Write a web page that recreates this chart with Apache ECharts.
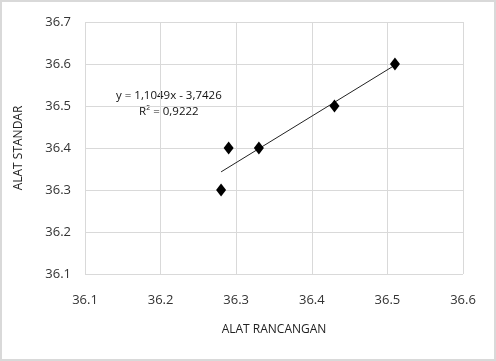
<!DOCTYPE html>
<html><head><meta charset="utf-8">
<script src="https://cdn.jsdelivr.net/npm/echarts@6/dist/echarts.min.js"></script>
<style>html,body{margin:0;padding:0;background:#fff}#c{width:496px;height:361px;box-sizing:border-box;border:2px solid #d9d9d9}</style>
</head><body><div id="c"></div>
<script>
const alatRancangan = [36.28, 36.29, 36.33, 36.43, 36.51];
const alatStandar = [36.3, 36.4, 36.4, 36.5, 36.6];
const slope = 1.1049, intercept = -3.7426;
const equationText = ['y = 1,1049x - 3,7426', 'R² = 0,9222'];

const pts = alatRancangan.map((x, i) => [x, alatStandar[i]]);
const xMin = Math.min(...alatRancangan), xMax = Math.max(...alatRancangan);
const trend = [[xMin, slope * xMin + intercept], [xMax, slope * xMax + intercept]];

const chart = echarts.init(document.getElementById('c'));
const font = 'Open Sans';
chart.setOption({
  animation: false,
  grid: {left: 83, right: 31, top: 20, bottom: 85, containLabel: false},
  xAxis: {
    type: 'value', min: 36.1, max: 36.6, interval: 0.1,
    name: 'ALAT RANCANGAN', nameLocation: 'middle', nameGap: 50,
    nameTextStyle: {fontFamily: font, fontSize: 12, color: '#222'},
    axisLine: {show: false}, axisTick: {show: false},
    axisLabel: {fontFamily: font, fontSize: 13, color: '#333', margin: 20, formatter: v => v.toFixed(1)},
    splitLine: {show: true, lineStyle: {color: '#d9d9d9', width: 1}}
  },
  yAxis: {
    type: 'value', min: 36.1, max: 36.7, interval: 0.1,
    name: 'ALAT STANDAR', nameLocation: 'middle', nameGap: 60,
    nameTextStyle: {fontFamily: font, fontSize: 12, color: '#222'},
    axisLine: {show: false}, axisTick: {show: false},
    axisLabel: {fontFamily: font, fontSize: 13, color: '#333', margin: 14, formatter: v => v.toFixed(1)},
    splitLine: {show: true, lineStyle: {color: '#d9d9d9', width: 1}}
  },
  graphic: [{
    type: 'text', left: 114, top: 86,
    style: {text: equationText.join('\n'), fontFamily: font, fontSize: 11.5, fill: '#111', align: 'center', lineHeight: 16, textAlign: 'center', x: 55}
  }],
  series: [
    {type: 'line', data: trend, symbol: 'none', lineStyle: {color: '#222', width: 1}, z: 2},
    {type: 'scatter', data: pts, symbol: 'diamond', symbolSize: [10, 13], itemStyle: {color: '#000', opacity: 1}, z: 3}
  ]
});
</script></body></html>
